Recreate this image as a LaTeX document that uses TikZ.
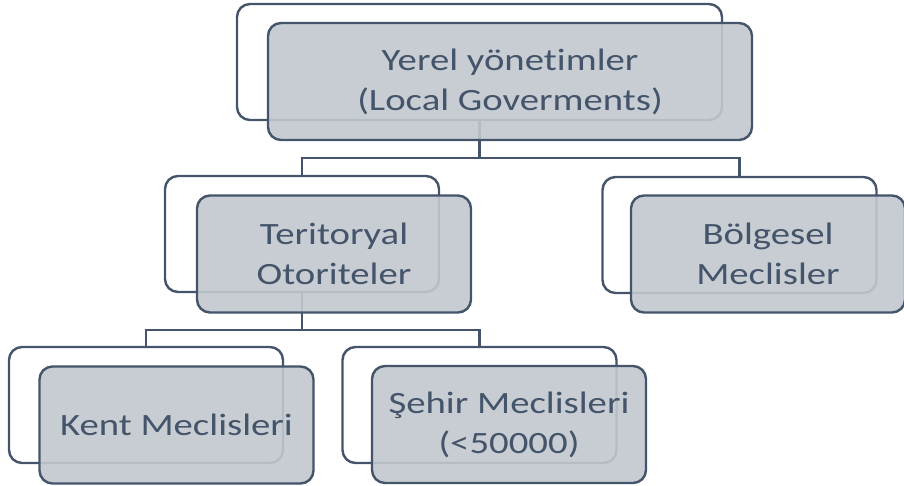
\documentclass[tikz,border=0pt]{standalone}
\usepackage{fontspec}
\setmainfont{Carlito}[FakeStretch=1.25, Ligatures=NoCommon]
\usetikzlibrary{calc}

\definecolor{slate}{RGB}{68,84,106}
\definecolor{boxgrey}{RGB}{194,200,206}

\tikzset{
    backbox/.style={draw=slate, line width=2.4pt, fill=white, rounded corners=13pt,
        minimum width=274pt, minimum height=116pt, inner sep=0pt},
    frontbox/.style={draw=slate, line width=2.4pt, fill=boxgrey, fill opacity=0.9,
        text opacity=1, text=slate, rounded corners=13pt, align=center,
        minimum width=274pt, minimum height=117pt, inner sep=0pt,
        font=\fontsize{31}{40}\selectfont},
    link/.style={draw=slate, line width=2.4pt}
}

\begin{document}
\begin{tikzpicture}[x=1pt, y=-1pt]

    \useasboundingbox (0,0) rectangle (904,486);

    % arka kutular
    \node[backbox, minimum width=485pt] (yerelB) at (479.5,62) {};
    \node[backbox] (teritoryalB) at (302,234) {};
    \node[backbox] (bolgeselB) at (739.5,235) {};
    \node[backbox] (kentB) at (146,405) {};
    \node[backbox] (sehirB) at (479.5,405) {};

    % baglantilar
    \coordinate (yerelBus) at (479.5,158);
    \coordinate (teritoryalBus) at (302,330);

    \draw[link] (yerelB.south) |- (yerelBus) -| (teritoryalB.north);
    \draw[link] (yerelBus) -| (bolgeselB.north);

    \draw[link] (teritoryalB.south) |- (teritoryalBus) -| (kentB.north);
    \draw[link] (teritoryalBus) -| (sehirB.north);

    % on kutular
    \node[frontbox, minimum width=484pt] (yerel) at (510,81.5)
        {Yerel yönetimler\\(Local Goverments)};

    \node[frontbox] (teritoryal) at (334,254)
        {Teritoryal\\Otoriteler};

    \node[frontbox] (bolgesel) at (768,254)
        {Bölgesel\\Meclisler};

    \node[frontbox] (kent) at (176.5,425)
        {Kent Meclisleri};

    \node[frontbox] (sehir) at (509,424.5)
        {Şehir Meclisleri\\(<50000)};

\end{tikzpicture}
\end{document}
